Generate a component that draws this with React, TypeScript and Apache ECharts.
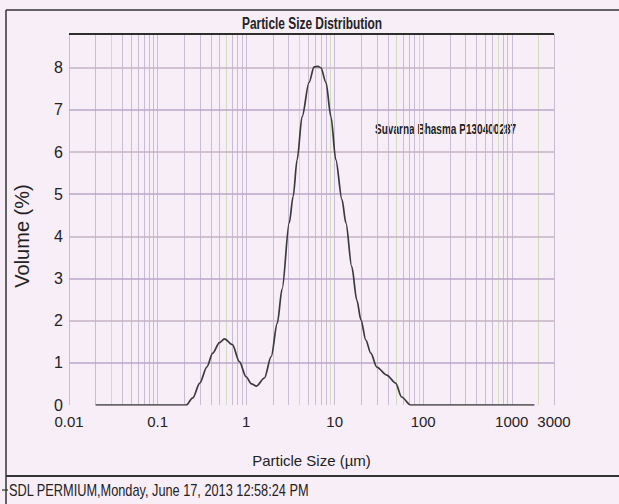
import React, { useEffect, useRef } from "react";
import * as echarts from "echarts";

const titleText = "Particle Size Distribution";
const xAxisName = "Particle Size (µm)";
const yAxisName = "Volume (%)";
const sampleLabel = "Suvarna Bhasma P130400287";
const footerText = "SDL PERMIUM,Monday, June 17, 2013 12:58:24 PM";

const xTickValues = [0.01, 0.1, 1, 10, 100, 1000, 3000];
const xTickLabels = ["0.01", "0.1", "1", "10", "100", "1000", "3000"];
const yTickValues = [0, 1, 2, 3, 4, 5, 6, 7, 8];

// particle size (µm)
const sizes = [
  0.02, 0.21, 0.25, 0.3, 0.36, 0.42, 0.5, 0.57, 0.7, 0.84, 1.0, 1.15, 1.31, 1.61,
  1.92, 2.25, 2.55, 3.07, 3.4, 3.77, 4.29, 5.14, 5.86, 6.5, 7.0, 7.98, 9.08, 10.3,
  12.1, 13.4, 15.6, 17.8, 19.8, 22.5, 25.6, 29.9, 38.7, 48.8, 57, 72, 1800,
];
// volume (%)
const volumes = [
  0, 0, 0.17, 0.52, 0.9, 1.23, 1.48, 1.57, 1.43, 1.03, 0.67, 0.5, 0.45, 0.64,
  1.15, 1.94, 2.75, 4.32, 4.95, 5.82, 6.84, 7.65, 8.02, 8.03, 8.0, 7.65, 6.84, 5.82,
  4.87, 4.32, 3.28, 2.49, 2.02, 1.54, 1.23, 0.9, 0.71, 0.52, 0.19, 0, 0,
];

// vertical log grid lines (µm)
const gridMantissas = [1, 2, 3, 4, 5, 6, 7, 8, 9];
const gridDecades = [0.01, 0.1, 1, 10, 100];
const gridExtra = [1000, 2000, 3000];

const X_MIN = 0.01;
const X_MAX = 3000;
const Y_MAX = 8.8;

const SANS = '"Liberation Sans", Arial, sans-serif';

export default function App() {
  const ref = useRef<HTMLDivElement>(null);

  useEffect(() => {
    if (!ref.current) return;
    const chart = echarts.init(ref.current, undefined, { renderer: "svg" });

    const gridVals: number[] = [];
    gridDecades.forEach((d) => gridMantissas.forEach((m) => gridVals.push(+(m * d).toPrecision(3))));
    gridExtra.forEach((v) => gridVals.push(v));
    const greenish = new Set([0.03, 0.6, 4, 9, 50, 90, 700, 2000]);

    const vLines = gridVals.map((v) => ({
      xAxis: v,
      lineStyle: {
        color: greenish.has(v) ? "#d2dcc2" : "#c9bdd6",
        width: 1,
        type: "solid",
      },
    }));

    const hLines = yTickValues
      .filter((v) => v > 0)
      .map((v) => ({
        yAxis: v,
        lineStyle: { color: v % 2 ? "#bca6cb" : "#c4b2c4", width: 1.6, type: "solid" },
      }));

    const data = sizes.map((s, i) => [s, volumes[i]]);

    const fmtX = (v: number) => {
      for (let i = 0; i < xTickValues.length; i++) {
        if (Math.abs(Math.log10(v) - Math.log10(xTickValues[i])) < 0.01) return xTickLabels[i];
      }
      return "";
    };

    chart.setOption({
      animation: false,
      backgroundColor: "#f8eef8",
      grid: { left: 69, right: 65, top: 34, bottom: 99, containLabel: false },
      xAxis: {
        type: "log",
        logBase: 10,
        min: X_MIN,
        max: X_MAX,
        name: xAxisName,
        nameLocation: "middle",
        nameGap: 48,
        nameTextStyle: { fontFamily: SANS, fontSize: 15, color: "#222" },
        axisLine: { show: false },
        axisTick: { show: false },
        splitLine: { show: false },
        minorSplitLine: { show: false },
        axisLabel: {
          customValues: xTickValues,
          formatter: fmtX,
          fontFamily: SANS,
          fontSize: 15,
          color: "#222",
          margin: 9,
        },
      },
      yAxis: {
        type: "value",
        min: 0,
        max: Y_MAX,
        interval: 1,
        axisLine: { show: false },
        axisTick: { show: false },
        splitLine: { show: false },
        axisLabel: {
          formatter: (v: number) => (Number.isInteger(v) ? String(v) : ""),
          fontFamily: SANS,
          fontSize: 16,
          color: "#222",
          margin: 6,
        },
      },
      series: [
        {
          type: "line",
          data,
          showSymbol: false,
          smooth: 0.3,
          smoothMonotone: "x",
          lineStyle: { color: "#3a3a3a", width: 1.7 },
          z: 5,
          markLine: {
            silent: true,
            symbol: "none",
            label: { show: false },
            animation: false,
            data: [
              ...vLines,
              ...hLines,
              { yAxis: Y_MAX, lineStyle: { color: "#2e2e2a", width: 2.2, type: "solid" } },
            ],
          },
        },
      ],
      graphic: [
        { type: "line", shape: { x1: 6, y1: 10, x2: 619, y2: 10 }, style: { stroke: "#333", lineWidth: 1.5 } },
        { type: "line", shape: { x1: 6, y1: 10, x2: 6, y2: 504 }, style: { stroke: "#333", lineWidth: 1.5 } },
        { type: "line", shape: { x1: 6, y1: 476, x2: 619, y2: 476 }, style: { stroke: "#333", lineWidth: 1.8 } },
        { type: "line", shape: { x1: 2, y1: 490, x2: 8, y2: 490 }, style: { stroke: "#333", lineWidth: 1.2 } },
        {
          type: "text",
          x: 312,
          y: 23,
          scaleX: 0.7,
          style: {
            text: titleText,
            font: `bold 17px ${SANS}`,
            fill: "#222",
            textAlign: "center",
            textVerticalAlign: "middle",
          },
        },
        {
          type: "text",
          x: 22,
          y: 236,
          rotation: Math.PI / 2,
          style: {
            text: yAxisName,
            font: `20px ${SANS}`,
            fill: "#222",
            textAlign: "center",
            textVerticalAlign: "middle",
          },
        },
        {
          type: "text",
          x: 9,
          y: 490,
          scaleX: 0.75,
          style: {
            text: footerText,
            font: `17px ${SANS}`,
            fill: "#222",
            textAlign: "left",
            textVerticalAlign: "middle",
          },
        },
        {
          type: "text",
          x: 375,
          y: 129,
          scaleX: 0.67,
          style: {
            text: sampleLabel,
            font: `bold 15px ${SANS}`,
            fill: "#222",
            textAlign: "left",
            textVerticalAlign: "middle",
          },
        },
      ],
    });

    return () => chart.dispose();
  }, []);

  return (
    <div
      ref={ref}
      style={{ position: "absolute", left: 0, top: 0, width: 619, height: 504 }}
    />
  );
}
